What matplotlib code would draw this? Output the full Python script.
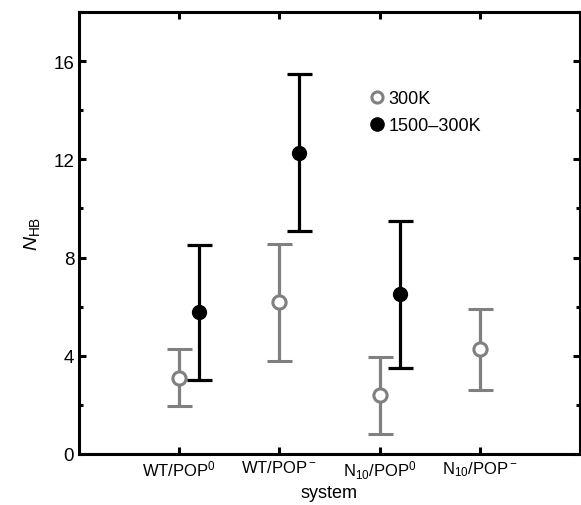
import numpy as np
import matplotlib.pyplot as plt
from matplotlib.lines import Line2D
from matplotlib.ticker import MultipleLocator

plt.rcParams['font.family'] = 'Liberation Sans'
plt.rcParams['mathtext.fontset'] = 'custom'
plt.rcParams['mathtext.rm'] = 'Liberation Sans'
plt.rcParams['mathtext.it'] = 'Liberation Sans:italic'

systems = ['WT/POP$^0$', 'WT/POP$^-$', 'N$_{10}$/POP$^0$', 'N$_{10}$/POP$^-$']

# 300K: mean, upper, lower
rt_mean = [3.1, 6.2, 2.4, 4.27]
rt_high = [4.27, 8.56, 3.97, 5.9]
rt_low = [1.96, 3.77, 0.81, 2.6]

# 1500-300K (no value for N10/POP-)
an_mean = [5.78, 12.27, 6.5]
an_high = [8.5, 15.47, 9.5]
an_low = [3.03, 9.08, 3.5]

gray = '#808080'

fig = plt.figure(figsize=(5.81, 5.06), dpi=100)
ax = fig.add_axes([0.136, 0.1008, 0.862, 0.8735])

x = np.arange(1, len(systems) + 1)
rt_err = [np.array(rt_mean) - np.array(rt_low), np.array(rt_high) - np.array(rt_mean)]
ax.errorbar(x, rt_mean, yerr=rt_err, fmt='o', color=gray, mfc='white', mec=gray,
            mew=2.2, ms=9.5, elinewidth=2.3, capsize=9, capthick=2.3, zorder=3)

xa = x[:len(an_mean)] + 0.2
an_err = [np.array(an_mean) - np.array(an_low), np.array(an_high) - np.array(an_mean)]
ax.errorbar(xa, an_mean, yerr=an_err, fmt='o', color='black', mfc='black', mec='black',
            ms=10, elinewidth=2.3, capsize=9, capthick=2.3, zorder=4)

ax.set_xlim(0, 5)
ax.set_ylim(0, 18)
ax.set_xticks(x)
ax.set_xticklabels(systems, fontsize=12)
ax.set_yticks([0, 4, 8, 12, 16])
ax.yaxis.set_minor_locator(MultipleLocator(2))
ax.tick_params(axis='y', labelsize=13.5)
ax.tick_params(which='both', direction='in', top=True, right=True, width=2.2)
ax.tick_params(which='major', length=5)
ax.tick_params(which='minor', length=3)
for s in ax.spines.values():
    s.set_linewidth(2.2)

ax.set_xlabel('system', fontsize=13, labelpad=2)
ax.set_ylabel(r'$\mathit{N}_{\mathrm{HB}}$', fontsize=14, labelpad=8)

handles = [
    Line2D([], [], ls='none', marker='o', color=gray, mfc='white', mew=2.2, ms=8),
    Line2D([], [], ls='none', marker='o', color='black', ms=9.5),
]
ax.legend(handles, ['300K', '1500\u2013300K'], loc='upper left',
          bbox_to_anchor=(0.54, 0.86), frameon=False, fontsize=13,
          handletextpad=0.05, handlelength=1.2, labelspacing=0.55)

fig.savefig('out.png', dpi=100)
